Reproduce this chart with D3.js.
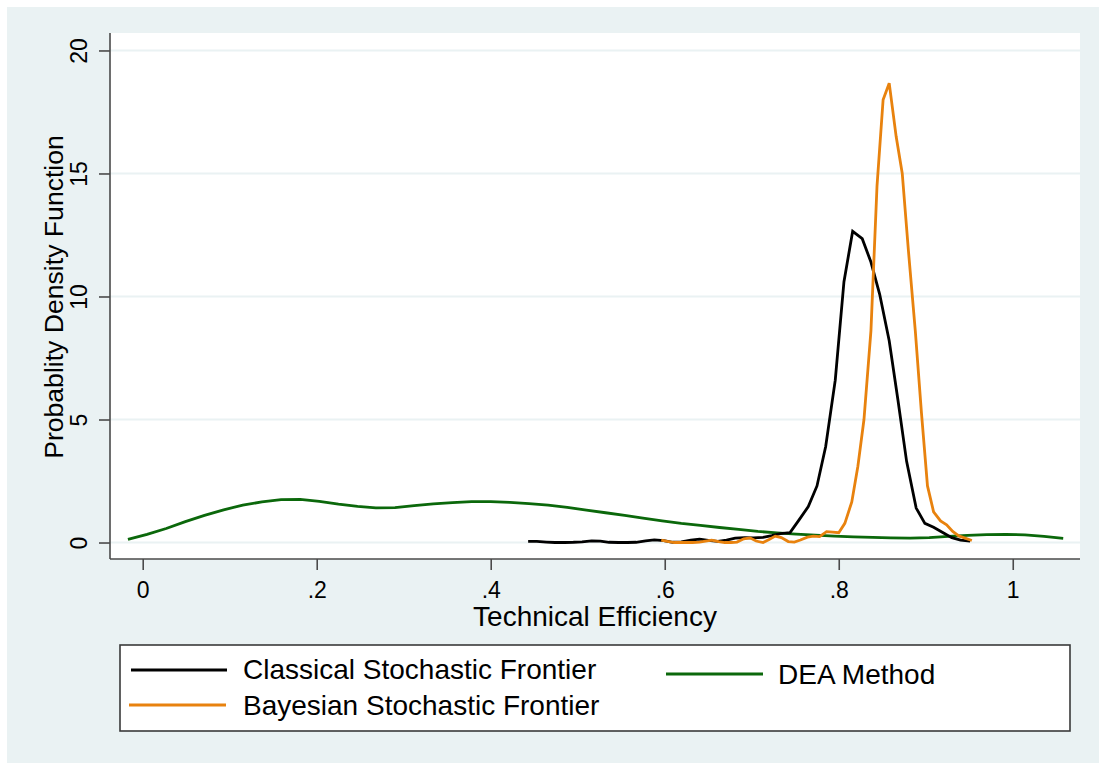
<!DOCTYPE html>
<html>
<head>
<meta charset="utf-8">
<script src="https://cdn.jsdelivr.net/npm/d3@7"></script>
<style>
  html, body { margin: 0; padding: 0; background: #ffffff; }
  svg { display: block; font-family: "Liberation Sans", Arial, sans-serif; }
</style>
</head>
<body>
<svg id="chart" width="1099" height="763"></svg>
<script>
// Kernel density estimates of technical efficiency, three estimation methods

const classicalX = [0.443,0.453,0.464,0.474,0.485,0.495,0.505,0.516,0.526,0.536,
  0.547,0.557,0.567,0.578,0.588,0.599,0.609,0.619,0.630,0.640,
  0.650,0.661,0.671,0.681,0.692,0.702,0.713,0.723,0.733,0.744,
  0.754,0.765,0.775,0.785,0.796,0.806,0.816,0.827,0.837,0.847,
  0.858,0.868,0.878,0.889,0.899,0.909,0.920,0.930,0.940,0.951];
const classicalY = [0.05,0.05,0.02,0.00,0.00,0.01,0.03,0.07,0.06,0.01,
  0.00,0.00,0.01,0.07,0.11,0.08,0.01,0.03,0.10,0.14,
  0.09,0.05,0.10,0.18,0.20,0.19,0.21,0.28,0.36,0.40,
  0.90,1.46,2.30,3.90,6.60,10.60,12.65,12.35,11.40,10.10,
  8.20,5.80,3.30,1.40,0.78,0.62,0.40,0.20,0.10,0.06];

const bayesX = [0.596,0.603,0.611,0.618,0.625,0.632,0.640,0.647,0.654,0.662,
  0.669,0.676,0.683,0.691,0.698,0.705,0.713,0.720,0.727,0.734,
  0.742,0.749,0.756,0.764,0.771,0.778,0.786,0.793,0.800,0.807,
  0.815,0.822,0.829,0.837,0.844,0.851,0.858,0.866,0.873,0.880,
  0.888,0.895,0.902,0.909,0.917,0.924,0.931,0.938,0.946,0.953];
const bayesY = [0.10,0.05,0.00,0.00,0.00,0.00,0.02,0.06,0.10,0.04,
  0.00,0.00,0.02,0.15,0.19,0.06,0.00,0.12,0.26,0.20,
  0.04,0.02,0.10,0.22,0.26,0.24,0.44,0.42,0.40,0.78,
  1.65,3.10,5.00,8.60,14.50,18.00,18.67,16.50,15.00,11.90,
  8.60,5.30,2.30,1.25,0.88,0.72,0.45,0.27,0.17,0.08];

const deaX = [-0.017,0.005,0.027,0.049,0.071,0.093,0.115,0.137,0.159,0.181,
  0.203,0.225,0.247,0.268,0.290,0.312,0.334,0.356,0.378,0.400,
  0.422,0.444,0.466,0.488,0.510,0.532,0.554,0.575,0.597,0.619,
  0.641,0.663,0.685,0.707,0.729,0.751,0.773,0.795,0.817,0.839,
  0.860,0.882,0.904,0.926,0.948,0.970,0.992,1.014,1.036,1.058];
const deaY = [0.13,0.33,0.57,0.85,1.10,1.33,1.52,1.65,1.74,1.75,
  1.67,1.56,1.47,1.41,1.42,1.50,1.57,1.62,1.66,1.66,
  1.63,1.58,1.52,1.43,1.32,1.21,1.10,0.99,0.88,0.78,
  0.70,0.61,0.53,0.45,0.39,0.34,0.30,0.26,0.23,0.21,
  0.19,0.18,0.20,0.25,0.29,0.32,0.33,0.31,0.25,0.17];

const xTicks = [0, 0.2, 0.4, 0.6, 0.8, 1];
const xTickLabels = ["0", ".2", ".4", ".6", ".8", "1"];
const yTicks = [0, 5, 10, 15, 20];

const seriesNames = ["Classical Stochastic Frontier", "Bayesian Stochastic Frontier", "DEA Method"];
const seriesColors = ["#000000", "#E8820E", "#0B680B"];

const series = [
  { name: seriesNames[0], color: seriesColors[0], pts: classicalX.map((x, i) => [x, classicalY[i]]) },
  { name: seriesNames[1], color: seriesColors[1], pts: bayesX.map((x, i) => [x, bayesY[i]]) },
  { name: seriesNames[2], color: seriesColors[2], pts: deaX.map((x, i) => [x, deaY[i]]) }
];

const svg = d3.select("#chart");
const W = 1099, H = 763;
const plot = { left: 110, right: 1080, top: 33, bottom: 559 };

// graph region background
svg.append("rect").attr("x", 7).attr("y", 7).attr("width", W - 7).attr("height", H - 7)
  .attr("fill", "#EAF2F3");

// plot region
svg.append("rect").attr("x", plot.left).attr("y", plot.top)
  .attr("width", plot.right - plot.left).attr("height", plot.bottom - plot.top)
  .attr("fill", "#ffffff");

const x = d3.scaleLinear().domain([-0.0376, 1.0773]).range([plot.left, plot.right]);
const y = d3.scaleLinear().domain([-0.67, 20.71]).range([plot.bottom, plot.top]);

// horizontal grid lines
svg.append("g").selectAll("line").data(yTicks).join("line")
  .attr("x1", plot.left).attr("x2", plot.right)
  .attr("y1", d => y(d)).attr("y2", d => y(d))
  .attr("stroke", "#EAF2F3").attr("stroke-width", 2);

// y axis
const yAxis = svg.append("g").attr("transform", `translate(${plot.left},0)`)
  .call(d3.axisLeft(y).tickValues(yTicks).tickSize(11).tickSizeOuter(0).tickFormat(d3.format("d")));
yAxis.select(".domain").attr("stroke", "#4a4a4a").attr("stroke-width", 1.6)
  .attr("d", `M0,${plot.top}V${plot.bottom}`);
yAxis.selectAll(".tick line").attr("stroke", "#4a4a4a").attr("stroke-width", 1.6);
yAxis.selectAll(".tick text")
  .attr("x", 0).attr("y", 0).attr("dy", 0)
  .attr("transform", "translate(-23,0) rotate(-90)")
  .attr("text-anchor", "middle")
  .attr("font-size", 23).attr("fill", "#000");

// x axis
const xAxis = svg.append("g").attr("transform", `translate(0,${plot.bottom})`)
  .call(d3.axisBottom(x).tickValues(xTicks).tickSize(11).tickSizeOuter(0)
    .tickFormat((d, i) => xTickLabels[i]));
xAxis.select(".domain").attr("stroke", "#4a4a4a").attr("stroke-width", 1.6)
  .attr("d", `M${plot.left},0H${plot.right}`);
xAxis.selectAll(".tick line").attr("stroke", "#4a4a4a").attr("stroke-width", 1.6);
xAxis.selectAll(".tick text").attr("y", 39).attr("dy", 0)
  .attr("font-size", 23).attr("fill", "#000");

// axis titles
svg.append("text").attr("x", 595).attr("y", 626).attr("text-anchor", "middle")
  .attr("font-size", 28).attr("fill", "#000").text("Technical Efficiency");
svg.append("text").attr("transform", "translate(63,297) rotate(-90)").attr("text-anchor", "middle")
  .attr("font-size", 26.6).attr("fill", "#000").text("Probablity Density Function");

// density curves
const line = d3.line().x(d => x(d[0])).y(d => y(d[1]));
const drawOrder = [2, 0, 1];
svg.append("g").selectAll("path").data(drawOrder.map(i => series[i])).join("path")
  .attr("d", d => line(d.pts))
  .attr("fill", "none")
  .attr("stroke", d => d.color)
  .attr("stroke-width", 2.8)
  .attr("stroke-linejoin", "miter");

// legend
const legend = svg.append("g");
legend.append("rect").attr("x", 120).attr("y", 645).attr("width", 950).attr("height", 86)
  .attr("fill", "#ffffff").attr("stroke", "#3a3a3a").attr("stroke-width", 1.6);
const legendItems = [
  { s: series[0], lx1: 131, lx2: 227, ly: 670, ty: 679, tx: 243 },
  { s: series[1], lx1: 129, lx2: 226, ly: 705, ty: 715, tx: 243 },
  { s: series[2], lx1: 666, lx2: 763, ly: 674, ty: 684, tx: 778 }
];
const li = legend.selectAll("g.item").data(legendItems).join("g").attr("class", "item");
li.append("line").attr("x1", d => d.lx1).attr("x2", d => d.lx2)
  .attr("y1", d => d.ly).attr("y2", d => d.ly)
  .attr("stroke", d => d.s.color).attr("stroke-width", 3);
li.append("text").attr("x", d => d.tx).attr("y", d => d.ty)
  .attr("font-size", 28).attr("fill", "#000").text(d => d.s.name);
</script>
</body>
</html>
